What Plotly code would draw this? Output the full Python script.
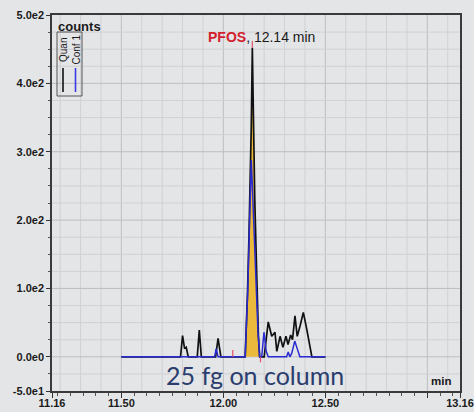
import numpy as np
import plotly.graph_objects as go

# ---------------- data ----------------
quan_t = [11.50, 11.79, 11.80, 11.81, 11.818, 11.828, 11.872, 11.882, 11.892,
          11.962, 11.974, 11.988, 12.107, 12.113, 12.118, 12.125, 12.131, 12.137,
          12.142, 12.148, 12.154, 12.160, 12.166, 12.172, 12.178, 12.20, 12.220,
          12.237, 12.253, 12.262, 12.278, 12.292, 12.307, 12.317, 12.330, 12.339,
          12.351, 12.362, 12.376, 12.392, 12.409, 12.425, 12.434, 12.50]
quan_y = [0, 0, 31, 12, 14, 0, 0, 39, 0,
          0, 27, 0, 0, 40, 90, 170, 240, 340,
          452, 330, 230, 160, 80, 30, 0, 0, 51,
          30, 36, 8, 30, 14, 30, 18, 32, 25,
          60, 30, 45, 65, 40, 15, 0, 0]

conf_t = [11.50, 11.957, 11.965, 11.974, 12.107, 12.113, 12.120, 12.127, 12.133,
          12.137, 12.142, 12.148, 12.155, 12.162, 12.170, 12.178, 12.188, 12.199,
          12.21, 12.22, 12.31, 12.318, 12.326, 12.335, 12.35, 12.362, 12.375, 12.50]
conf_y = [0, 0, 12, 0, 0, 38, 100, 180, 260,
          288, 250, 200, 150, 90, 35, 0, 0, 36,
          8, 0, 0, 7, 0, 5, 23, 12, 0, 0]

peak_start, peak_end = 12.105, 12.18      # integrated region (yellow)
mark_t = [12.046, 12.046, None, 12.182, 12.182, None, 12.142, 12.142]
mark_y = [0, 10, None, 0, -8, None, 452, 462]

x_tickvals = [11.16, 11.50, 12.00, 12.50, 13.00, 13.16]
x_ticktext = ["11.16", "11.50", "12.00", "12.50", "", "13.16"]
y_tickvals = [-50, 0, 100, 200, 300, 400, 500]
y_ticktext = ["-5.0e1", "0.0e0", "1.0e2", "2.0e2", "3.0e2", "4.0e2", "5.0e2"]

# ---------------- layout helpers ----------------
W, H = 474, 412
L, R, T, B = 52, 14, 15, 21
PW, PH = W - L - R, H - T - B
def px(x):
    return (x - L) / PW
def py(y):
    return (H - B - y) / PH

BG = "#e4e5e7"
FONT = "Liberation Sans, Arial, sans-serif"

fig = go.Figure()

# yellow integrated area under Quan peak
ft = [t for t in quan_t if peak_start <= t <= peak_end]
fy = [y for t, y in zip(quan_t, quan_y) if peak_start <= t <= peak_end]
fig.add_trace(go.Scatter(x=ft, y=fy, mode="lines", fill="tozeroy",
                         fillcolor="#ebba3c", line=dict(width=0, color="#ebba3c"),
                         hoverinfo="skip", showlegend=False))
fig.add_trace(go.Scatter(x=quan_t, y=quan_y, mode="lines", name="Quan",
                         line=dict(color="#111111", width=1.7), showlegend=False))
fig.add_trace(go.Scatter(x=conf_t, y=conf_y, mode="lines", name="Conf 1",
                         line=dict(color="#2a2ad2", width=1.5), showlegend=False))
fig.add_trace(go.Scatter(x=mark_t, y=mark_y, mode="lines",
                         line=dict(color="#e0506a", width=1.2),
                         hoverinfo="skip", showlegend=False))

# grid lines
shapes = []
for v in np.round(np.arange(11.2, 13.16, 0.1), 2):
    major = abs((v * 2) - round(v * 2)) < 1e-6
    shapes.append(dict(type="line", xref="x", yref="paper", x0=v, x1=v, y0=0, y1=1,
                       layer="below",
                       line=dict(color="#bcbec1" if major else "#cfd1d4", width=1)))
for v in range(-25, 500, 25):
    major = v % 100 == 0
    shapes.append(dict(type="line", xref="paper", yref="y", x0=0, x1=1, y0=v, y1=v,
                       layer="below",
                       line=dict(color="#bcbec1" if major else "#cfd1d4", width=1)))

# legend box
shapes.append(dict(type="rect", xref="paper", yref="paper",
                   x0=px(57), x1=px(82), y0=py(96), y1=py(32),
                   line=dict(color="#555555", width=1), fillcolor="rgba(0,0,0,0)"))
shapes.append(dict(type="line", xref="paper", yref="paper",
                   x0=px(63), x1=px(63), y0=py(92), y1=py(68),
                   line=dict(color="#111111", width=1.6)))
shapes.append(dict(type="line", xref="paper", yref="paper",
                   x0=px(75.5), x1=px(75.5), y0=py(92), y1=py(68),
                   line=dict(color="#3a3ae0", width=1.6)))

annotations = [
    dict(text="<b><span style='color:#d2202c'>PFOS</span></b>, 12.14 min",
         xref="paper", yref="paper", x=px(206), y=py(37), xanchor="left", yanchor="middle",
         showarrow=False, font=dict(family=FONT, size=14, color="#1a1a1a")),
    dict(text="<b>counts</b>", xref="paper", yref="paper", x=px(56), y=py(26),
         xanchor="left", yanchor="middle", showarrow=False,
         font=dict(family=FONT, size=13, color="#1a1a1a")),
    dict(text="Quan", xref="paper", yref="paper", x=px(63), y=py(50),
         xanchor="center", yanchor="middle", textangle=-90, showarrow=False,
         font=dict(family=FONT, size=10, color="#1a1a1a")),
    dict(text="Conf 1", xref="paper", yref="paper", x=px(75.5), y=py(50),
         xanchor="center", yanchor="middle", textangle=-90, showarrow=False,
         font=dict(family=FONT, size=10, color="#1a1a1a")),
    dict(text="<b>min</b>", xref="paper", yref="paper", x=px(441), y=py(381),
         xanchor="center", yanchor="middle", showarrow=False,
         font=dict(family=FONT, size=11.5, color="#1a1a1a")),
    dict(text="25 fg on column", xref="paper", yref="paper", x=px(255), y=py(375),
         xanchor="center", yanchor="middle", showarrow=False,
         font=dict(family="Lato, Open Sans, sans-serif", size=25, color="#2a3d6e")),
]

fig.update_layout(
    width=W, height=H,
    margin=dict(l=L, r=R, t=T, b=B, pad=0),
    paper_bgcolor=BG, plot_bgcolor=BG,
    shapes=shapes, annotations=annotations,
    showlegend=False,
    xaxis=dict(range=[11.16, 13.16], tickmode="array", tickvals=x_tickvals,
               ticktext=x_ticktext, showgrid=False, zeroline=False, automargin=False,
               ticks="outside", ticklen=5, tickcolor="#333333", tickwidth=1,
               ticklabelstandoff=-4,
               showline=True, mirror=True, linecolor="#3a3a3a", linewidth=1.5,
               tickfont=dict(family=FONT, size=11, color="#1a1a1a", weight="bold"),
               minor=dict(ticks="outside", ticklen=3, tick0=11.5, dtick=0.0625,
                          tickcolor="#555555", showgrid=False)),
    yaxis=dict(range=[-50, 500], tickmode="array", tickvals=y_tickvals,
               ticktext=y_ticktext, showgrid=False, zeroline=False, automargin=False,
               ticks="outside", ticklen=4, tickcolor="#333333", tickwidth=1,
               showline=True, mirror=True, linecolor="#3a3a3a", linewidth=1.5,
               tickfont=dict(family=FONT, size=11, color="#1a1a1a", weight="bold"),
               minor=dict(ticks="outside", ticklen=2, tick0=-50, dtick=25,
                          tickcolor="#555555", showgrid=False)),
)

fig.write_html("out.html")
